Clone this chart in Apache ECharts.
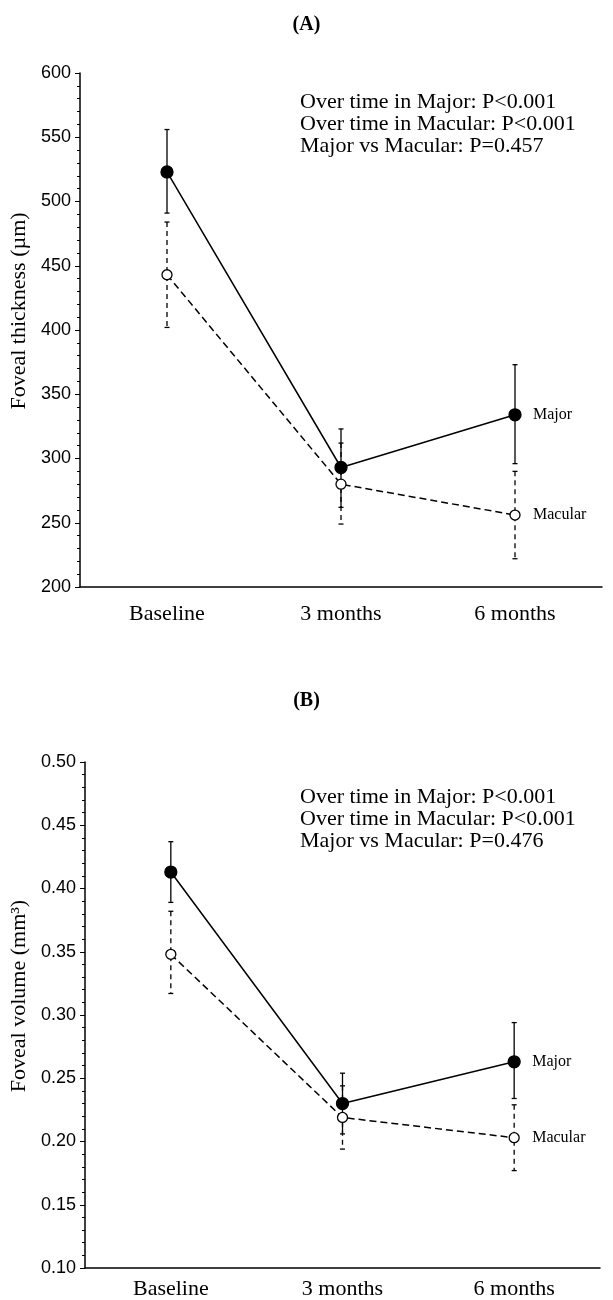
<!DOCTYPE html>
<html>
<head>
<meta charset="utf-8">
<script src="https://cdn.jsdelivr.net/npm/echarts@6/dist/echarts.min.js"></script>
<style>
  html, body { margin: 0; padding: 0; background: #fff; }
  #chart { width: 613px; height: 1300px; }
</style>
</head>
<body>
<div id="chart"></div>
<script>
const timepoints = ["Baseline", "3 months", "6 months"]

// panel A - foveal thickness (µm)
const thickMajor = [523, 293, 334]
const thickMajorLo = [491, 262, 296]
const thickMajorHi = [556, 323, 373]
const thickMacular = [443, 280, 256]
const thickMacularLo = [402, 249, 222]
const thickMacularHi = [484, 312, 290]
const thickStats = ["Over time in Major: P<0.001", "Over time in Macular: P<0.001", "Major vs Macular: P=0.457"]

// panel B - foveal volume (mm3)
const volMajor = [0.413, 0.230, 0.263]
const volMajorLo = [0.389, 0.206, 0.234]
const volMajorHi = [0.437, 0.254, 0.294]
const volMacular = [0.348, 0.219, 0.203]
const volMacularLo = [0.317, 0.194, 0.177]
const volMacularHi = [0.382, 0.244, 0.229]
const volStats = ["Over time in Major: P<0.001", "Over time in Macular: P<0.001", "Major vs Macular: P=0.476"]

const serif = "'Liberation Serif', 'Times New Roman', serif"
const sans = "'Liberation Sans', Arial, sans-serif"

const errorBars = (name, lo, hi, axis, dashed) => ({
  name: name,
  type: "custom",
  xAxisIndex: axis,
  yAxisIndex: axis,
  z: 1,
  silent: true,
  data: lo.map((v, i) => [i, v, hi[i]]),
  renderItem: (params, api) => {
    const top = api.coord([api.value(0), api.value(2)])
    const bot = api.coord([api.value(0), api.value(1)])
    const style = { stroke: "#000", lineWidth: 1.3, lineDash: dashed ? [5, 4] : null }
    const cap = 2.5
    return {
      type: "group",
      children: [
        { type: "line", shape: { x1: top[0], y1: top[1], x2: bot[0], y2: bot[1] }, style: style },
        { type: "line", shape: { x1: top[0] - cap, y1: top[1], x2: top[0] + cap, y2: top[1] }, style: { stroke: "#000", lineWidth: 1.3 } },
        { type: "line", shape: { x1: bot[0] - cap, y1: bot[1], x2: bot[0] + cap, y2: bot[1] }, style: { stroke: "#000", lineWidth: 1.3 } }
      ]
    }
  }
})

const lineSeries = (name, data, axis, filled) => ({
  name: name,
  type: "line",
  xAxisIndex: axis,
  yAxisIndex: axis,
  z: 3,
  data: data,
  symbol: "circle",
  symbolSize: filled ? 12 : 10,
  showAllSymbol: true,
  lineStyle: { color: "#000", width: 1.5, type: filled ? "solid" : [7, 4] },
  itemStyle: { color: filled ? "#000" : "#fff", borderColor: "#000", borderWidth: 1.3 },
  endLabel: {
    show: true,
    formatter: "{a}",
    distance: 18,
    color: "#000",
    fontFamily: serif,
    fontSize: 16
  },
  animation: false
})

const xAxis = (grid, margin) => ({
  type: "category",
  gridIndex: grid,
  data: timepoints,
  boundaryGap: true,
  axisLine: { lineStyle: { color: "#000", width: 1.5 } },
  axisTick: { alignWithLabel: true, length: 3, lineStyle: { color: "#000" } },
  axisLabel: { color: "#000", fontFamily: serif, fontSize: 22, margin: margin },
  splitLine: { show: false }
})

const yAxis = (grid, min, max, interval, name, fmt) => ({
  type: "value",
  gridIndex: grid,
  min: min,
  max: max,
  interval: interval,
  name: name,
  nameLocation: "middle",
  nameGap: 50,
  nameTextStyle: { color: "#000", fontFamily: serif, fontSize: 22, padding: [0, 0, 0, 38] },
  axisLine: { show: true, lineStyle: { color: "#000", width: 1.5 } },
  axisTick: { show: true, length: 5, lineStyle: { color: "#000" } },
  minorTick: { show: true, splitNumber: 5, length: 3, lineStyle: { color: "#000" } },
  axisLabel: { color: "#000", fontFamily: sans, fontSize: 18, margin: 9, formatter: fmt },
  splitLine: { show: false }
})

const statText = (lines, top) => lines.map((t, i) => ({
  type: "text",
  left: 300,
  top: top + i * 22,
  style: { text: t, fill: "#000", font: "22px " + serif }
}))

const chart = echarts.init(document.getElementById("chart"))
chart.setOption({
  backgroundColor: "#fff",
  animation: false,
  title: [
    { text: "(A)", left: "center", top: 10, textStyle: { fontFamily: serif, fontSize: 20, fontWeight: "bold", color: "#000" } },
    { text: "(B)", left: "center", top: 686, textStyle: { fontFamily: serif, fontSize: 20, fontWeight: "bold", color: "#000" } }
  ],
  grid: [
    { left: 80, right: 11, top: 73, height: 514 },
    { left: 85, right: 13, top: 762, height: 508 }
  ],
  xAxis: [xAxis(0, 16), xAxis(1, 10)],
  yAxis: [
    yAxis(0, 200, 600, 50, "Foveal thickness (µm)", v => v),
    yAxis(1, 0.1, 0.5, 0.05, "Foveal volume (mm³)", v => v.toFixed(2))
  ],
  graphic: [].concat(statText(thickStats, 91), statText(volStats, 786)),
  series: [
    errorBars("Major err A", thickMajorLo, thickMajorHi, 0, false),
    errorBars("Macular err A", thickMacularLo, thickMacularHi, 0, true),
    lineSeries("Major", thickMajor, 0, true),
    lineSeries("Macular", thickMacular, 0, false),
    errorBars("Major err B", volMajorLo, volMajorHi, 1, false),
    errorBars("Macular err B", volMacularLo, volMacularHi, 1, true),
    lineSeries("Major", volMajor, 1, true),
    lineSeries("Macular", volMacular, 1, false)
  ]
})
</script>
</body>
</html>
